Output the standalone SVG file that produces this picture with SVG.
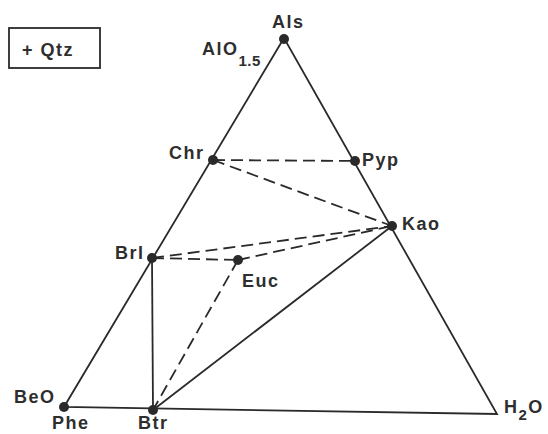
<svg xmlns="http://www.w3.org/2000/svg" width="548" height="434" viewBox="0 0 548 434">
<style>
text{font-family:"Liberation Sans",Arial,sans-serif;font-weight:bold;font-size:18px;letter-spacing:1.5px;fill:#2e2e2e}
.s{stroke:#2a2a2a;stroke-width:1.8;fill:none}
.d{stroke:#2a2a2a;stroke-width:1.8;fill:none;stroke-dasharray:12,6}
.dot{fill:#2a2a2a}
</style>
<rect width="548" height="434" fill="#fff"/>
<g id="legend"><rect x="9" y="28" width="91" height="40" class="s" stroke-width="1.5"/><text x="22" y="56" font-size="21" letter-spacing="2.5">+ Qtz</text></g>
<g id="connectors">
<path class="s" d="M284 38 L64 407 L497 414 Z"/>
<line class="s" x1="152" y1="258" x2="153" y2="410"/>
<line class="s" x1="153" y1="410" x2="392" y2="226"/>
<line class="d" x1="213" y1="160" x2="355" y2="161"/>
<line class="d" x1="213" y1="160" x2="392" y2="226"/>
<line class="d" x1="152" y1="258" x2="392" y2="226"/>
<line class="d" x1="152" y1="258" x2="238" y2="260"/>
<line class="d" x1="238" y1="260" x2="392" y2="226"/>
<line class="d" x1="238" y1="260" x2="153" y2="410"/>
</g>
<g id="Als"><circle class="dot" cx="284" cy="39" r="5"/><text x="272" y="28">Als</text></g>
<g id="AlO"><text x="202" y="55">AlO<tspan font-size="15" letter-spacing="0.5" dy="11">1.5</tspan></text></g>
<g id="Chr"><circle class="dot" cx="213" cy="160" r="5"/><text x="169" y="159">Chr</text></g>
<g id="Pyp"><circle class="dot" cx="355" cy="161" r="5"/><text x="362" y="166">Pyp</text></g>
<g id="Kao"><circle class="dot" cx="392" cy="226" r="5"/><text x="402" y="230">Kao</text></g>
<g id="Brl"><circle class="dot" cx="152" cy="258" r="5"/><text x="115" y="259">Brl</text></g>
<g id="Euc"><circle class="dot" cx="238" cy="260" r="5"/><text x="242" y="287">Euc</text></g>
<g id="Phe"><circle class="dot" cx="64" cy="407" r="5"/><text x="14" y="403">BeO</text><text x="52" y="429">Phe</text></g>
<g id="Btr"><circle class="dot" cx="153" cy="410" r="5"/><text x="138" y="429">Btr</text></g>
<g id="H2O"><text x="504" y="413" font-size="19">H<tspan font-size="15" dy="7">2</tspan><tspan dy="-7">O</tspan></text></g>
</svg>
